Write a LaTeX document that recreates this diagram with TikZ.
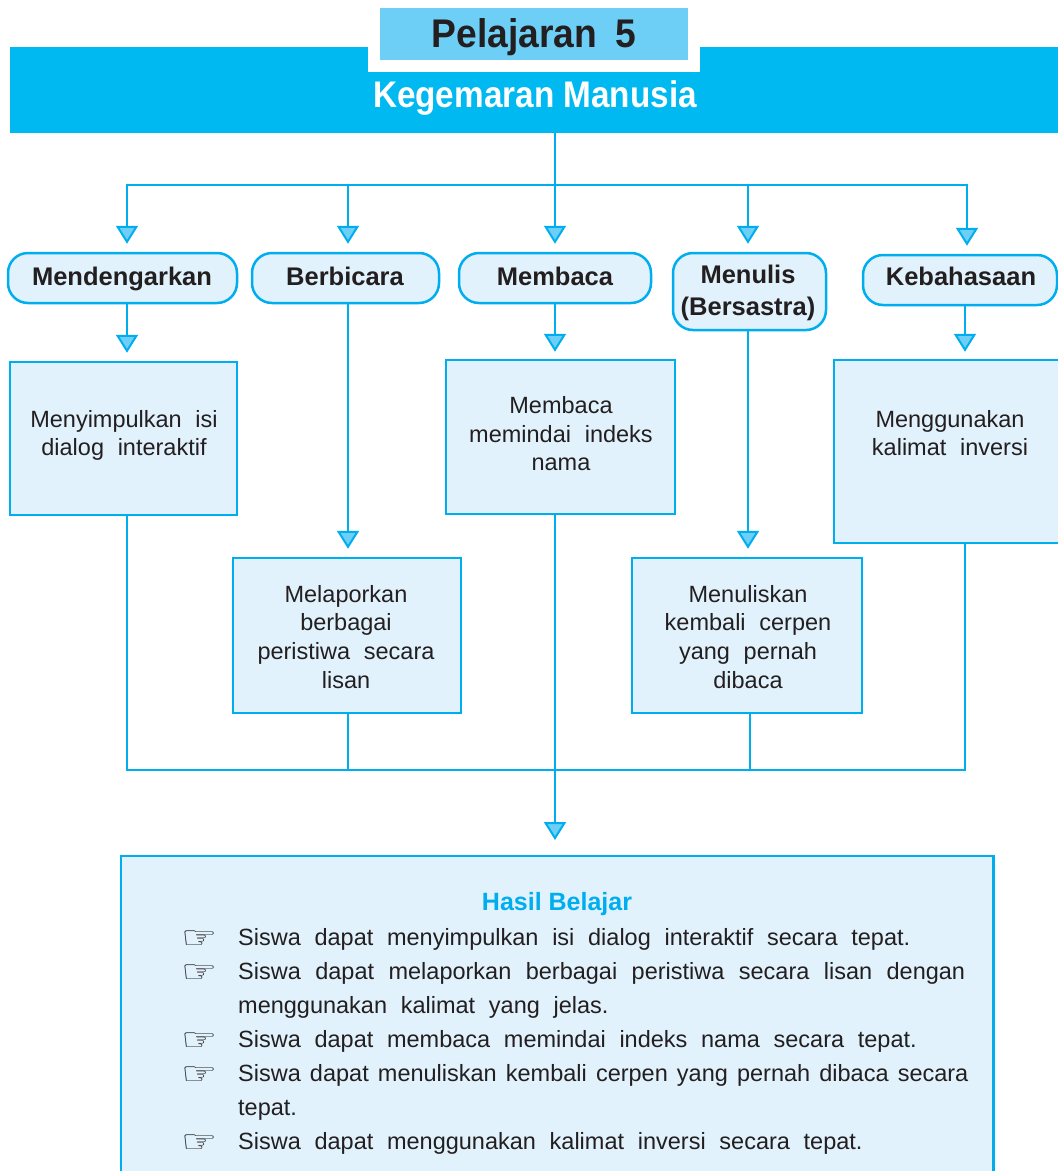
\documentclass[tikz,border=0pt]{standalone}
\usepackage{fontspec}
\usepackage{graphicx}
\setmainfont{Liberation Sans}
\newfontfamily\bodyfont[WordSpace=2.1]{Liberation Sans}
\newfontfamily\headfont[FakeStretch=0.9]{Liberation Sans}
\newfontfamily\pelfont[FakeStretch=0.93]{Liberation Sans}
\newfontfamily\handfont{DejaVu Sans}
\usetikzlibrary{arrows.meta}
\definecolor{cy}{RGB}{0,174,239}
\definecolor{bandc}{RGB}{0,185,241}
\definecolor{lt}{RGB}{109,207,246}
\definecolor{pale}{RGB}{225,242,252}
\definecolor{ink}{RGB}{35,31,32}
\newcommand{\handsym}{\scalebox{1.3}[1]{☞}}
\tikzset{
  every node/.style={inner sep=0pt},
  conn/.style={draw=cy, line width=2.5pt},
  arr/.style={conn, -{Triangle[width=22pt,length=18pt,fill=lt,line width=2pt]}},
  pill/.style={draw=cy, line width=2.5pt, fill=pale, rounded corners=20pt},
  boxn/.style={draw=cy, line width=2.5pt, fill=pale},
  hd/.style={font=\headfont\bfseries\fontsize{37}{40}\selectfont},
  lbl/.style={font=\bfseries\fontsize{25.5}{30}\selectfont, text=ink, anchor=base},
  txt/.style={font=\bodyfont\fontsize{23.5}{29}\selectfont, text=ink, anchor=base},
  item/.style={font=\bodyfont\fontsize{23.5}{29}\selectfont, text=ink, anchor=base west},
  hand/.style={font=\handfont\fontsize{31}{31}\selectfont, text=ink},
}
\begin{document}
\begin{tikzpicture}[x=1pt,y=-1pt]
\useasboundingbox (0,0) rectangle (1058,1171);
% header
\node[fill=bandc, minimum width=1052pt, minimum height=86pt, anchor=north west] (bandn) at (10,47) {};
\node[fill=lt, draw=white, line width=12pt, minimum width=320pt, minimum height=64pt] (peln) at (534,34) {};
\node[font=\pelfont\bfseries\fontsize{40}{44}\selectfont, text=ink, anchor=base] (pelt) at (534,47) {Pelajaran\hspace{0.45em}5};
\node[hd, text=white, anchor=base] (kgt) at (535,107) {Kegemaran Manusia};
% pills
\node[pill, minimum width=229pt, minimum height=50pt] (p1) at (122.5,278) {};
\node[pill, minimum width=187pt, minimum height=50pt] (p2) at (345.5,278) {};
\node[pill, minimum width=192pt, minimum height=50pt] (p3) at (555,278) {};
\node[pill, minimum width=153pt, minimum height=77pt] (p4) at (749.5,291.5) {};
\node[pill, minimum width=194pt, minimum height=50pt] (p5) at (960,280) {};
\node[lbl] (p1t) at (122,285) {Mendengarkan};
\node[lbl] (p2t) at (345,285) {Berbicara};
\node[lbl] (p3t) at (555,285) {Membaca};
\node[lbl] (p4t) at (748,283) {Menulis};
\node[lbl] (p4u) at (748,315) {(Bersastra)};
\node[lbl] (p5t) at (961,285) {Kebahasaan};
% boxes
\node[boxn, minimum width=227pt, minimum height=153pt] (b1) at (123.5,438.5) {};
\node[boxn, minimum width=228pt, minimum height=155pt] (b2) at (347,635.5) {};
\node[boxn, minimum width=229pt, minimum height=154pt] (b3) at (560.5,437) {};
\node[boxn, minimum width=230pt, minimum height=155pt] (b4) at (747,635.5) {};
\node[boxn, minimum width=228pt, minimum height=183pt] (b5) at (948,451.5) {};
\node[txt] (b1a) at (124,427) {Menyimpulkan isi};
\node[txt] (b1b) at (124,455) {dialog interaktif};
\node[txt] (b3a) at (561,413) {Membaca};
\node[txt] (b3b) at (561,442) {memindai indeks};
\node[txt] (b3c) at (561,470) {nama};
\node[txt] (b5a) at (950,427) {Menggunakan};
\node[txt] (b5b) at (950,455) {kalimat inversi};
\node[txt] (b2a) at (346,602) {Melaporkan};
\node[txt] (b2b) at (346,630) {berbagai};
\node[txt] (b2c) at (346,659) {peristiwa secara};
\node[txt] (b2d) at (346,688) {lisan};
\node[txt] (b4a) at (748,602) {Menuliskan};
\node[txt] (b4b) at (748,630) {kembali cerpen};
\node[txt] (b4c) at (748,659) {yang pernah};
\node[txt] (b4d) at (748,688) {dibaca};
% result box
\node[fill=pale, minimum width=872pt, minimum height=330pt, anchor=north west] (hb) at (121,856) {};
\draw[conn] (hb.south west) -- (hb.north west) -- (hb.north east) -- (hb.south east);
\node[font=\bfseries\fontsize{25}{30}\selectfont, text=cy, anchor=base] (hbt) at (557,910) {Hasil Belajar};
\node[hand] (h1) at (200,940) {\handsym};
\node[hand] (h2) at (200,974) {\handsym};
\node[hand] (h3) at (200,1042) {\handsym};
\node[hand] (h4) at (200,1076) {\handsym};
\node[hand] (h5) at (200,1144) {\handsym};
\node[item] (s1) at (238,945) {Siswa dapat menyimpulkan isi dialog interaktif secara tepat.};
\node[item] (s2) at (238,979) {\makebox[727pt][s]{Siswa dapat melaporkan berbagai peristiwa secara lisan dengan}};
\node[item] (s3) at (238,1013) {menggunakan kalimat yang jelas.};
\node[item] (s4) at (238,1047) {Siswa dapat membaca memindai indeks nama secara tepat.};
\node[item] (s5) at (238,1081) {\makebox[727pt][s]{Siswa dapat menuliskan kembali cerpen yang pernah dibaca secara}};
\node[item] (s6) at (238,1115) {tepat.};
\node[item] (s7) at (238,1149) {Siswa dapat menggunakan kalimat inversi secara tepat.};
% connectors top
\coordinate (hub) at (555,185);
\coordinate (c1) at (127,185);
\coordinate (c2) at (348,185);
\coordinate (c3) at (555,185);
\coordinate (c4) at (748,185);
\coordinate (c5) at (967,185);
\draw[conn] (bandn.south -| hub) -- (hub);
\draw[conn] (c2) -- (c4);
\draw[arr, shorten >=8pt] (c2) -- (c1) -- (c1 |- p1.north);
\draw[arr, shorten >=8pt] (c2) -- (c2 |- p2.north);
\draw[arr, shorten >=8pt] (c3) -- (c3 |- p3.north);
\draw[arr, shorten >=8pt] (c4) -- (c4 |- p4.north);
\draw[arr, shorten >=8pt] (c4) -- (c5) -- (c5 |- p5.north);
% pill to box
\coordinate (d1) at (127,770);
\coordinate (d2) at (348,770);
\coordinate (d3) at (555,770);
\coordinate (d4) at (750,770);
\coordinate (d5) at (965,770);
\draw[arr, shorten >=8pt] (p1.south -| d1) -- (b1.north -| d1);
\draw[arr, shorten >=8pt] (p2.south -| d2) -- (b2.north -| d2);
\draw[arr, shorten >=7pt] (p3.south -| d3) -- (b3.north -| d3);
\draw[arr, shorten >=8pt] (p4.south -| c4) -- (b4.north -| c4);
\draw[arr, shorten >=7pt] (p5.south -| d5) -- (b5.north -| d5);
% bottom connectors
\draw[conn] (b1.south -| d1) -- (d1) -- (d5) -- (b5.south -| d5);
\draw[conn] (b2.south -| d2) -- (d2);
\draw[conn] (b4.south -| d4) -- (d4);
\draw[arr, shorten >=16pt] (b3.south -| d3) -- (hb.north -| d3);
\end{tikzpicture}
\end{document}
